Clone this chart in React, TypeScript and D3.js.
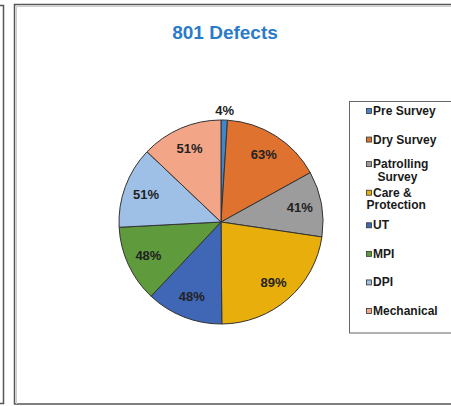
import React from "react";
import * as d3 from "d3";

const title = "801 Defects";
const categories = [
  "Pre Survey",
  "Dry Survey",
  "Patrolling Survey",
  "Care & Protection",
  "UT",
  "MPI",
  "DPI",
  "Mechanical",
];
const values = [4, 63, 41, 89, 48, 48, 51, 51];
const colors = [
  "#3F86CC",
  "#E0722F",
  "#9C9C9C",
  "#E8AE0C",
  "#3F67B6",
  "#5F9B3D",
  "#9EBFE6",
  "#F2A687",
];

const W = 451;
const H = 406;
const FONT = "'Liberation Sans', Arial, sans-serif";

function measure(text: string, font: string): number {
  if (typeof document === "undefined") return text.length * 7;
  const c = document.createElement("canvas");
  const ctx = c.getContext("2d");
  if (!ctx) return text.length * 7;
  ctx.font = font;
  return ctx.measureText(text).width;
}

function wrap(name: string): string[] {
  if (name.length <= 12) return [name];
  const i = name.lastIndexOf(" ");
  return [name.slice(0, i), name.slice(i + 1)];
}

export default function App() {
  const cx = 221;
  const cy = 222;
  const R = 102;

  const pie = d3
    .pie<number>()
    .sort(null)
    .value((d) => d)
    .startAngle(0)
    .endAngle(2 * Math.PI);
  const arcs = pie(values);
  const arc = d3.arc<d3.PieArcDatum<number>>().innerRadius(0).outerRadius(R);
  const labelArc = d3
    .arc<d3.PieArcDatum<number>>()
    .innerRadius(80)
    .outerRadius(80);
  const outerLabelArc = d3
    .arc<d3.PieArcDatum<number>>()
    .innerRadius(112)
    .outerRadius(112);

  const legendX = 349.5;
  const legendY = 101.5;
  const slot = d3
    .scalePoint<number>()
    .domain(d3.range(categories.length))
    .range([111, 311]);
  const legendSize = 12;
  const legendFont = `bold ${legendSize}px ${FONT}`;
  const markerX = 366.5;
  const textX = 373;
  const lineGap = 12.5;

  return (
    <svg
      width={W}
      height={H}
      style={{ position: "absolute", left: 0, top: 0, background: "#fff" }}
      fontFamily={FONT}
    >
      {/* neighbour frame edge */}
      <path d="M0,5.5 H3.5 V403.5 H0" fill="none" stroke="#555" strokeWidth={1.5} />
      {/* main frame */}
      <rect x={14.5} y={4.5} width={470} height={399.5} fill="#fff" stroke="#555" strokeWidth={1.5} />
      <path d="M16.5,404 V6.5 H460" fill="none" stroke="#ccc" strokeWidth={1} />

      <text
        x={225}
        y={39}
        textAnchor="middle"
        fontSize={19}
        fontWeight="bold"
        fill="#2B7BC9"
      >
        {title}
      </text>

      <g transform={`translate(${cx},${cy})`}>
        {arcs.map((a, i) => (
          <path key={i} d={arc(a) || ""} fill={colors[i]} stroke="#333" strokeWidth={1} />
        ))}
        {arcs.map((a, i) => {
          const small = a.endAngle - a.startAngle < 0.2;
          const [x, y] = (small ? outerLabelArc : labelArc).centroid(a);
          return (
            <text
              key={i}
              x={x}
              y={y}
              textAnchor="middle"
              dominantBaseline="central"
              fontSize={13}
              fontWeight="bold"
              fill="#222"
            >
              {`${values[i]}%`}
            </text>
          );
        })}
      </g>

      <rect x={legendX} y={legendY} width={130} height={231.5} fill="#fff" stroke="#666" strokeWidth={1} />
      {categories.map((name, i) => {
        const lines = wrap(name);
        const yc = slot(i) as number;
        const y1 = lines.length > 1 ? yc - 4 : yc;
        const w1 = textX - markerX + measure(lines[0], legendFont);
        return (
          <g key={name}>
            <rect
              x={markerX}
              y={y1 - 2.5}
              width={5}
              height={5}
              fill={colors[i]}
              stroke="#333"
              strokeWidth={0.8}
            />
            <text
              x={textX}
              y={y1}
              dominantBaseline="central"
              fontSize={legendSize}
              fontWeight="bold"
              fill="#1a1a1a"
            >
              {lines[0]}
            </text>
            {lines.length > 1 && (
              <text
                x={markerX + Math.max(0, (w1 - measure(lines[1], legendFont)) / 2)}
                y={y1 + lineGap}
                dominantBaseline="central"
                fontSize={legendSize}
                fontWeight="bold"
                fill="#1a1a1a"
              >
                {lines[1]}
              </text>
            )}
          </g>
        );
      })}
    </svg>
  );
}
